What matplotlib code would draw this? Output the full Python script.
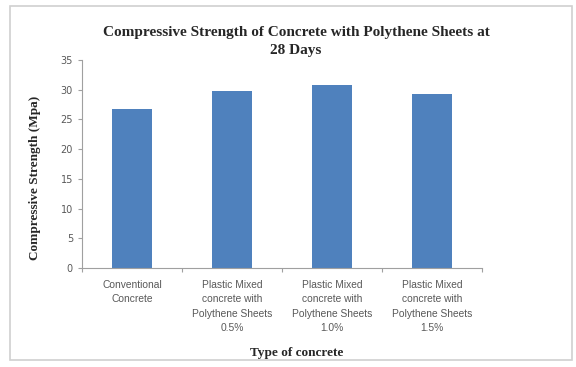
import matplotlib
matplotlib.use("Agg")
import matplotlib.pyplot as plt
from matplotlib.patches import Rectangle

categories = [
    "Conventional\nConcrete",
    "Plastic Mixed\nconcrete with\nPolythene Sheets\n0.5%",
    "Plastic Mixed\nconcrete with\nPolythene Sheets\n1.0%",
    "Plastic Mixed\nconcrete with\nPolythene Sheets\n1.5%",
]
strength = [26.7, 29.8, 30.8, 29.2]
yticks = [0, 5, 10, 15, 20, 25, 30, 35]

W, H = 576, 367
fig = plt.figure(figsize=(W / 100, H / 100), dpi=100)
fig.patch.set_facecolor("white")

# outer chart frame
fig.patches.append(Rectangle((10 / W, 1 - 360 / H), 562 / W, 354 / H,
                             transform=fig.transFigure, fill=False,
                             edgecolor="#d0d0d0", linewidth=1.2))

ax = fig.add_axes([82 / W, 1 - 268 / H, 400 / W, 208 / H])
x = list(range(len(categories)))
ax.bar(x, strength, width=0.4, color="#4F81BD", zorder=2)

ax.set_xlim(-0.5, len(categories) - 0.5)
ax.set_ylim(0, 35)
ax.set_yticks(yticks)
ax.set_yticklabels([str(t) for t in yticks])
ax.set_xticks(x)
ax.set_xticklabels(categories, fontsize=7.4, color="#595959",
                   family="Liberation Sans", linespacing=1.55)
ax.tick_params(axis="y", labelsize=7, labelcolor="#595959", length=3,
               color="#a0a0a0", width=0.8)
ax.tick_params(axis="x", length=0, pad=8.5)
# category separator ticks on the x axis
ax.set_xticks([i + 0.5 for i in range(-1, len(categories))], minor=True)
ax.tick_params(axis="x", which="minor", length=3, color="#a0a0a0", width=0.8)

for s in ["top", "right"]:
    ax.spines[s].set_visible(False)
for s in ["left", "bottom"]:
    ax.spines[s].set_color("#a0a0a0")
    ax.spines[s].set_linewidth(0.8)

fig.text(296 / W, 1 - 41.5 / H,
         "Compressive Strength of Concrete with Polythene Sheets at\n28 Days",
         ha="center", va="center", fontsize=11, fontweight="bold",
         family="Liberation Serif", color="#262626", linespacing=1.45)

fig.text(35 / W, 1 - 178 / H, "Compressive Strength (Mpa)", rotation=90,
         ha="center", va="center", fontsize=9.5, fontweight="bold",
         family="Liberation Serif", color="#262626")

fig.text(297 / W, 1 - 353 / H, "Type of concrete", ha="center", va="center",
         fontsize=9.5, fontweight="bold", family="Liberation Serif",
         color="#262626")

fig.savefig("out.png", dpi=100)
